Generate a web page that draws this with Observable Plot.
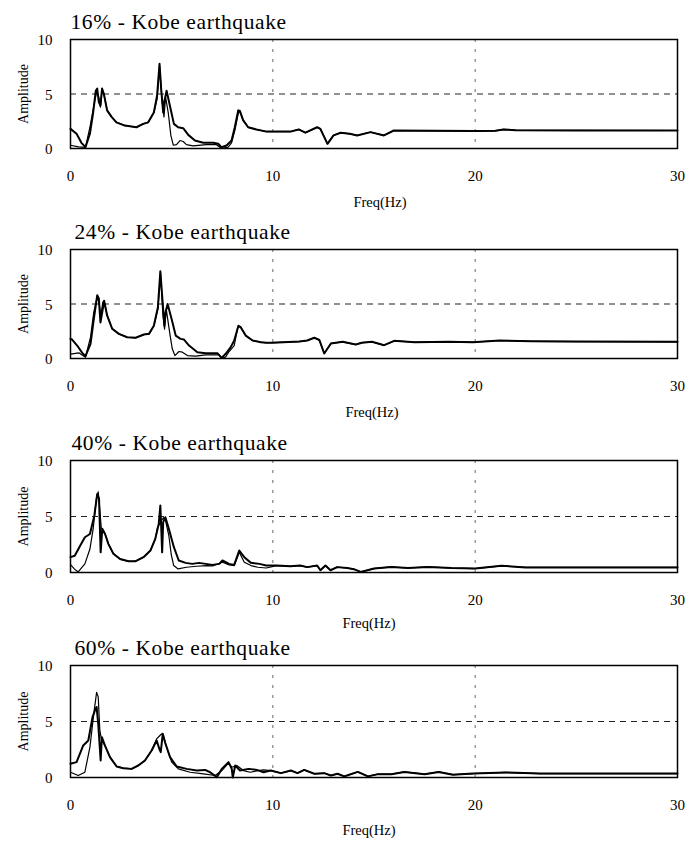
<!DOCTYPE html>
<html><head><meta charset="utf-8">
<script src="https://cdn.jsdelivr.net/npm/d3@7"></script>
<script src="https://cdn.jsdelivr.net/npm/@observablehq/plot@0.6"></script>
<style>
body{margin:0;background:#fff;}
#chart svg{display:block;}
#chart svg text{font-family:'Liberation Serif','Times New Roman',Times,serif;}
</style></head><body><div id="chart"></div>
<script>
const xTicks = [0, 10, 20, 30];
const yTicks = [0, 5, 10];
const titles = ["16% - Kobe earthquake", "24% - Kobe earthquake", "40% - Kobe earthquake", "60% - Kobe earthquake"];
const xLabel = "Freq(Hz)";
const yLabel = "Amplitude";

// 16% panel: [freq Hz, amplitude]
const k16A = [[0,1.8],[0.3,1.35],[0.54,0.52],[0.74,0.12],[0.96,1.35],[1.12,3.3],[1.25,5.3],[1.32,5.5],[1.4,4.25],[1.48,3.95],[1.56,5.5],[1.65,5.0],[1.81,3.5],[2.03,2.9],[2.27,2.4],[2.69,2.1],[3.26,1.95],[3.59,2.26],[3.84,2.4],[4.12,3.3],[4.28,4.86],[4.4,7.77],[4.48,5.5],[4.58,3.3],[4.63,4.25],[4.75,5.3],[4.91,3.95],[5.11,2.26],[5.32,1.95],[5.57,1.86],[5.82,1.25],[6.15,0.73],[6.56,0.52],[7.05,0.52],[7.3,0.43],[7.46,0.12],[7.71,0.27],[7.96,0.73],[8.12,1.95],[8.29,3.5],[8.37,3.45],[8.53,2.6],[8.78,1.95],[9.19,1.74],[9.69,1.55]];
const k16B = [[0,0.3],[0.4,0.15],[0.74,0.1],[0.96,1.95],[1.12,3.6],[1.29,5.2],[1.4,4.7],[1.48,3.8],[1.56,5.4],[1.65,5.0],[1.81,3.5],[2.03,2.9],[2.27,2.4],[2.69,2.1],[3.26,1.95],[3.59,2.26],[3.84,2.4],[4.12,3.3],[4.28,4.55],[4.4,7.6],[4.53,4.25],[4.62,2.9],[4.7,4.7],[4.83,3.3],[4.96,1.2],[5.08,0.3],[5.24,0.36],[5.41,0.73],[5.57,0.64],[5.73,0.36],[6.06,0.24],[6.72,0.36],[7.2,0.36],[7.46,0.0],[7.79,0.12],[7.96,0.52],[8.12,1.65],[8.29,3.2],[8.37,3.45],[8.53,2.6],[8.78,1.95],[9.19,1.74],[9.69,1.55]];
const k16Tail = [[10.05,1.55],[10.87,1.55],[11.28,1.75],[11.61,1.45],[12.19,1.95],[12.35,1.8],[12.7,0.43],[13.0,1.2],[13.35,1.45],[13.8,1.35],[14.17,1.2],[14.83,1.5],[15.49,1.2],[15.98,1.65],[18,1.62],[20,1.6],[21,1.62],[21.4,1.75],[22,1.68],[25,1.66],[30,1.65]];

// 24% panel
const k24A = [[0,1.8],[0.08,1.74],[0.33,1.19],[0.58,0.52],[0.74,0.21],[0.99,1.35],[1.15,3.6],[1.32,5.8],[1.4,5.5],[1.48,3.3],[1.57,4.25],[1.66,5.3],[1.81,3.95],[2.06,2.73],[2.39,2.26],[2.8,1.95],[3.22,1.9],[3.63,2.2],[3.88,2.26],[4.12,3.0],[4.32,4.7],[4.44,8.0],[4.54,5.5],[4.64,3.0],[4.7,4.25],[4.8,5.0],[5.0,3.6],[5.2,2.1],[5.44,1.8],[5.61,1.74],[5.86,1.19],[6.27,0.58],[6.68,0.49],[7.26,0.49],[7.47,0.06],[7.67,0.43],[7.92,1.04],[8.09,1.65],[8.3,3.0],[8.42,2.85],[8.66,2.1],[9.0,1.65],[9.41,1.5],[9.65,1.45]];
const k24B = [[0,0.4],[0.41,0.52],[0.74,0.12],[0.99,1.95],[1.15,4.25],[1.32,5.6],[1.4,5.2],[1.5,3.95],[1.6,5.2],[1.7,5.0],[1.81,3.95],[2.06,2.73],[2.39,2.26],[2.8,1.95],[3.22,1.9],[3.63,2.2],[3.88,2.26],[4.12,3.0],[4.32,4.55],[4.45,7.8],[4.57,3.95],[4.65,2.7],[4.73,4.55],[4.9,2.4],[5.03,0.89],[5.16,0.27],[5.36,0.64],[5.53,0.58],[5.78,0.27],[6.19,0.21],[6.68,0.33],[7.34,0.33],[7.5,0],[7.67,0.15],[7.84,0.64],[8.09,1.19],[8.25,2.7],[8.3,3.0],[8.42,2.85],[8.66,2.1],[9.0,1.65],[9.41,1.5],[9.65,1.45]];
const k24Tail = [[9.98,1.45],[11.3,1.55],[11.7,1.65],[12.05,1.9],[12.3,1.7],[12.54,0.46],[12.87,1.38],[13.45,1.53],[14.1,1.28],[14.4,1.45],[14.9,1.53],[15.5,1.22],[16.0,1.62],[17,1.5],[18.7,1.53],[19.9,1.5],[21.2,1.65],[22.8,1.58],[25,1.55],[30,1.53]];

// 40% panel
const k40A = [[0,1.37],[0.21,1.5],[0.45,2.3],[0.71,3.15],[0.96,3.44],[1.18,5.1],[1.32,7.0],[1.41,6.6],[1.49,1.8],[1.57,3.9],[1.71,3.44],[1.87,2.56],[2.12,1.67],[2.45,1.2],[2.87,1.0],[3.2,1.0],[3.61,1.37],[3.95,1.96],[4.19,3.0],[4.36,4.33],[4.44,5.98],[4.48,4.2],[4.53,1.8],[4.58,4.5],[4.69,4.94],[4.86,3.9],[5.11,2.26],[5.35,1.07],[5.69,0.86],[6.02,0.77],[6.35,0.86],[6.68,0.77],[7.01,0.68],[7.35,0.77],[7.51,1.07],[7.84,0.77],[8.09,0.68],[8.34,1.96],[8.59,1.37],[8.92,0.86],[9.34,0.77],[9.67,0.62]];
const k40B = [[0,0.7],[0.2,0.3],[0.38,0.05],[0.71,0.77],[0.96,2.1],[1.12,3.9],[1.28,6.6],[1.37,7.2],[1.43,6.0],[1.52,4.0],[1.6,3.7],[1.71,3.44],[1.87,2.56],[2.12,1.67],[2.45,1.2],[2.87,1.0],[3.2,1.0],[3.61,1.37],[3.95,1.96],[4.19,3.0],[4.3,4.0],[4.48,4.6],[4.6,4.9],[4.7,4.6],[4.86,3.3],[4.98,1.6],[5.1,0.62],[5.32,0.32],[5.73,0.47],[6.23,0.56],[6.72,0.62],[7.05,0.6],[7.51,0.92],[7.84,0.68],[8.09,0.62],[8.34,1.8],[8.59,0.92],[8.92,0.62],[9.26,0.47],[9.67,0.4]];
const k40Tail = [[10.2,0.62],[10.86,0.56],[11.35,0.62],[11.7,0.48],[12.19,0.62],[12.35,0.2],[12.6,0.62],[12.85,0.2],[13.18,0.48],[13.68,0.4],[14.0,0.3],[14.35,0.05],[15.0,0.35],[15.85,0.5],[16.68,0.4],[17.67,0.5],[18.83,0.4],[20.0,0.35],[21.3,0.6],[22.5,0.45],[25,0.45],[30,0.45]];

// 60% panel
const k60A = [[0,1.22],[0.3,1.37],[0.63,2.86],[0.88,3.3],[1.09,5.4],[1.21,6.0],[1.29,6.3],[1.37,4.8],[1.49,1.52],[1.55,3.6],[1.7,2.86],[1.95,1.82],[2.28,0.98],[2.61,0.83],[3.02,0.77],[3.35,1.07],[3.68,1.52],[4.01,2.41],[4.26,3.3],[4.39,2.56],[4.46,2.26],[4.56,3.9],[4.67,3.15],[4.92,1.82],[5.25,0.98],[5.74,0.77],[6.24,0.62],[6.65,0.68],[6.9,0.47],[7.23,0.03],[7.48,0.77],[7.81,1.37],[7.97,0.77],[8.02,0.0],[8.14,1.07],[8.38,0.62],[8.8,0.77],[9.21,0.68],[9.54,0.47]];
const k60B = [[0,0.47],[0.38,0.18],[0.71,0.47],[0.96,2.71],[1.16,5.83],[1.29,7.6],[1.37,7.2],[1.45,4.2],[1.54,3.3],[1.7,2.86],[1.95,1.82],[2.28,0.98],[2.61,0.83],[3.02,0.77],[3.35,1.07],[3.68,1.52],[4.01,2.41],[4.26,3.45],[4.42,3.75],[4.5,3.9],[4.59,3.75],[4.75,2.71],[5.0,1.37],[5.33,0.77],[5.91,0.47],[6.57,0.33],[7.15,0.18],[7.48,0.62],[7.81,1.28],[7.97,0.92],[8.22,1.07],[8.55,0.62],[8.88,0.47],[9.29,0.62],[9.54,0.68]];
const k60Tail = [[9.9,0.62],[10.4,0.39],[10.89,0.62],[11.22,0.39],[11.55,0.68],[12.05,0.33],[12.54,0.39],[12.87,0.18],[13.2,0.33],[13.53,0.1],[13.7,0.2],[14.2,0.5],[14.7,0.1],[15.2,0.3],[15.86,0.3],[16.5,0.5],[17.5,0.3],[18.2,0.5],[18.9,0.25],[19.9,0.35],[21.5,0.45],[23.2,0.35],[26.5,0.35],[30,0.35]];

const seriesA = [[...k16A, ...k16Tail], [...k24A, ...k24Tail], [...k40A, ...k40Tail], [...k60A, ...k60Tail]];
const seriesB = [[...k16B, ...k16Tail], [...k24B, ...k24Tail], [...k40B, ...k40Tail], [...k60B, ...k60Tail]];

// layout per panel
const layout = [
  {h: 210, top: 39, bottom: 62, tdx: 0, fdx: 6, fdy: 54},
  {h: 210, top: 39, bottom: 62, tdx: 4, fdx: -2, fdy: 54},
  {h: 213, top: 40, bottom: 61, tdx: 1, fdx: -5, fdy: 51},
  {h: 210, top: 32, bottom: 66, tdx: 4, fdx: -5, fdy: 53}
];

const font = "'Liberation Serif', 'Times New Roman', Times, serif";
const root = document.getElementById("chart");
const toObj = arr => arr.map(([f, amp]) => ({f, amp}));
const frameCenterX = (70 + (700 - 23)) / 2;

titles.forEach((title, i) => {
  const L = layout[i];
  const a = toObj(seriesA[i]);
  const b = toObj(seriesB[i]);
  const svg = Plot.plot({
    width: 700, height: L.h,
    marginLeft: 70, marginRight: 23, marginTop: L.top, marginBottom: L.bottom,
    style: {fontFamily: font, fontSize: "15px", color: "#000", background: "#fff"},
    x: {domain: [0, 30]},
    y: {domain: [0, 10]},
    marks: [
      Plot.ruleY([5], {stroke: "#222", strokeDasharray: "6,5", strokeWidth: 1}),
      Plot.ruleX([10, 20], {stroke: "#666", strokeDasharray: "3,7", strokeWidth: 1}),
      Plot.line(b, {x: "f", y: "amp", stroke: "#000", strokeWidth: 1.2}),
      Plot.line(a, {x: "f", y: "amp", stroke: "#000", strokeWidth: 2}),
      Plot.frame({stroke: "#000", strokeWidth: 1.5}),
      Plot.axisX(xTicks, {tickSize: 0, tickPadding: 22, label: null, fontFamily: font}),
      Plot.axisY(yTicks, {tickSize: 0, tickPadding: 18, label: null, dy: 1, fontFamily: font}),
      Plot.text([title], {text: d => d, frameAnchor: "top-left", dx: L.tdx, dy: -11, lineAnchor: "bottom", textAnchor: "start", fontSize: 21.5, fontFamily: font}),
      Plot.text([yLabel], {text: d => d, frameAnchor: "middle", rotate: -90, dx: 23 - frameCenterX, fontSize: 14, fontFamily: font}),
      Plot.text([xLabel], {text: d => d, frameAnchor: "bottom", dx: L.fdx, dy: L.fdy, lineAnchor: "middle", fontSize: 14.5, fontFamily: font})
    ]
  });
  d3.select(svg).selectAll("text")
    .filter(function() { return this.textContent === title; })
    .attr("letter-spacing", "0.6");
  root.appendChild(svg);
});
</script>
</body></html>
